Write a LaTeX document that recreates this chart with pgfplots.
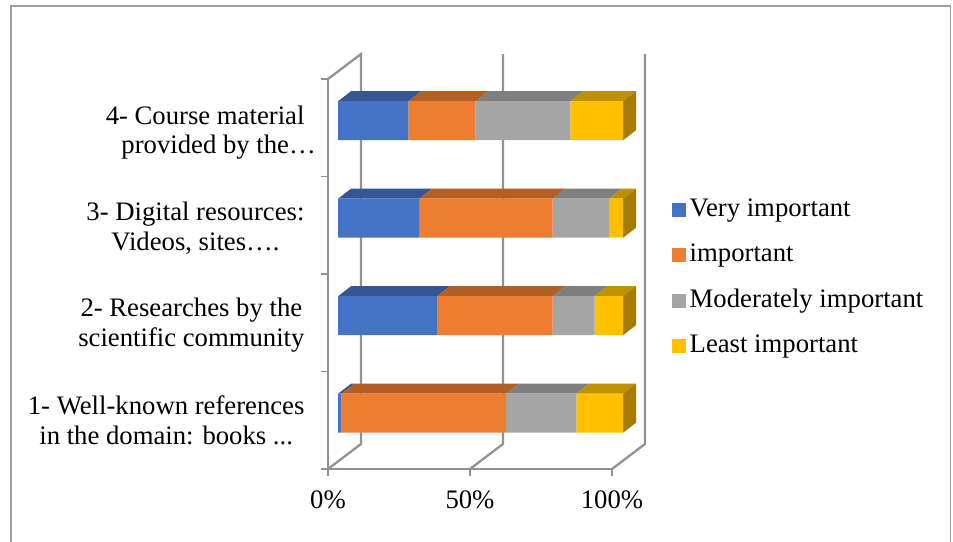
\documentclass[border=0pt]{standalone}
\usepackage{fontspec}
\setmainfont{Liberation Serif}
\usepackage{pgfplots}
\usepackage{pgfplotstable}
\pgfplotsset{compat=1.18}

\definecolor{vi}{HTML}{4472C4}
\definecolor{im}{HTML}{ED7D31}
\definecolor{mo}{HTML}{A5A5A5}
\definecolor{le}{HTML}{FFC000}
\definecolor{vitop}{HTML}{345794}
\definecolor{imtop}{HTML}{B45F23}
\definecolor{motop}{HTML}{7F7F7F}
\definecolor{letop}{HTML}{BF9000}
\definecolor{leside}{HTML}{A67C00}
\definecolor{wall}{HTML}{929292}
\definecolor{frame}{HTML}{A0A0A0}

% percent shares, one row per category
\pgfplotstableread{
pos vi im mo le
0.5 1.2 57.8 24.6 16.4
1.5 34.7 40.6 14.7 10.0
2.5 28.5 46.8 19.8 4.9
3.5 24.7 23.6 33.2 18.5
}\shares

\newcommand{\lab}{\fontsize{26.7}{29.5}\selectfont}

\pgfplotsset{
  sizeframe/.style={scale only axis, height=390pt, ymin=0, ymax=4, xmin=0, xmax=100, clip=false},
}

\begin{document}
\begin{tikzpicture}
\path[use as bounding box] (0pt,0pt) rectangle (953pt,541pt);
\draw[frame, line width=1.4pt] (11pt,-2pt) -- (11pt,535pt) -- (950.5pt,535pt) -- (950.5pt,-2pt);

% walls, floor and axes
\begin{axis}[
  sizeframe, width=284pt,
  at={(328pt,72pt)}, anchor=south west,
  axis x line*=bottom, axis y line*=left,
  axis line style={wall, line width=2.3pt, -},
  tick align=outside,
  major tick length=7pt, minor tick length=7pt,
  xtick={0,50,100}, xticklabels={0\%,50\%,100\%},
  xtick style={wall, line width=1.4pt},
  ytick={0.5,1.474,2.47,3.45},
  yticklabels={
    {1- Well-known references\\in the domain: books .{}..},
    {2- Researches by the\\scientific community},
    {3- Digital resources:\\Videos, sites….},
    {4- Course material\\provided by the…\hspace*{-27pt}}},
  major y tick style={draw=none},
  minor ytick={0,1,2,3,4},
  minor y tick style={draw=wall, line width=1.4pt},
  ticklabel style={font=\lab},
  yticklabel style={align=center, xshift=-13pt},
  xticklabel style={yshift=-11pt},
]
\addplot[wall, line width=2.3pt] coordinates {(0,4) (11.6,4.256) (11.6,0.256) (0,0)};
\addplot[wall, line width=2.3pt] coordinates {(61.6,4.256) (61.6,0.256) (50,0)};
\addplot[wall, line width=2.3pt] coordinates {(111.6,4.256) (111.6,0.256) (100,0)};
\end{axis}

% top and end faces of the bars
\begin{axis}[sizeframe, width=285pt, at={(338pt,79pt)}, anchor=south west, hide axis]
\addplot[fill=vitop,draw=none] coordinates {(0,0.7) (1.2,0.7) (5.76,0.8026) (4.56,0.8026)};
\addplot[fill=imtop,draw=none] coordinates {(1.2,0.7) (59.0,0.7) (63.56,0.8026) (5.76,0.8026)};
\addplot[fill=motop,draw=none] coordinates {(59.0,0.7) (83.6,0.7) (88.16,0.8026) (63.56,0.8026)};
\addplot[fill=letop,draw=none] coordinates {(83.6,0.7) (100,0.7) (104.56,0.8026) (88.16,0.8026)};
\addplot[fill=leside,draw=none] coordinates {(100,0.3) (104.56,0.4026) (104.56,0.8026) (100,0.7)};

\addplot[fill=vitop,draw=none] coordinates {(0,1.7) (34.7,1.7) (39.26,1.8026) (4.56,1.8026)};
\addplot[fill=imtop,draw=none] coordinates {(34.7,1.7) (75.3,1.7) (79.86,1.8026) (39.26,1.8026)};
\addplot[fill=motop,draw=none] coordinates {(75.3,1.7) (90.0,1.7) (94.56,1.8026) (79.86,1.8026)};
\addplot[fill=letop,draw=none] coordinates {(90.0,1.7) (100,1.7) (104.56,1.8026) (94.56,1.8026)};
\addplot[fill=leside,draw=none] coordinates {(100,1.3) (104.56,1.4026) (104.56,1.8026) (100,1.7)};

\addplot[fill=vitop,draw=none] coordinates {(0,2.7) (28.5,2.7) (33.06,2.8026) (4.56,2.8026)};
\addplot[fill=imtop,draw=none] coordinates {(28.5,2.7) (75.3,2.7) (79.86,2.8026) (33.06,2.8026)};
\addplot[fill=motop,draw=none] coordinates {(75.3,2.7) (95.1,2.7) (99.66,2.8026) (79.86,2.8026)};
\addplot[fill=letop,draw=none] coordinates {(95.1,2.7) (100,2.7) (104.56,2.8026) (99.66,2.8026)};
\addplot[fill=leside,draw=none] coordinates {(100,2.3) (104.56,2.4026) (104.56,2.8026) (100,2.7)};

\addplot[fill=vitop,draw=none] coordinates {(0,3.7) (24.7,3.7) (29.26,3.8026) (4.56,3.8026)};
\addplot[fill=imtop,draw=none] coordinates {(24.7,3.7) (48.3,3.7) (52.86,3.8026) (29.26,3.8026)};
\addplot[fill=motop,draw=none] coordinates {(48.3,3.7) (81.5,3.7) (86.06,3.8026) (52.86,3.8026)};
\addplot[fill=letop,draw=none] coordinates {(81.5,3.7) (100,3.7) (104.56,3.8026) (86.06,3.8026)};
\addplot[fill=leside,draw=none] coordinates {(100,3.3) (104.56,3.4026) (104.56,3.8026) (100,3.7)};
\end{axis}

% the stacked bars and the legend
\begin{axis}[
  sizeframe, width=285pt, at={(338pt,79pt)}, anchor=south west, hide axis,
  xbar stacked, bar width=39pt,
  legend image code/.code={\path[#1,draw=none] (0pt,-7pt) rectangle (14pt,7pt);},
  legend cell align=left,
  legend style={
    at={(1.172,0.68)}, anchor=north west, draw=none, fill=none,
    font=\lab, inner sep=0pt, row sep=20.5pt,
    nodes={text height=19pt, text depth=6pt, inner xsep=3.5pt, inner ysep=0pt},
  },
]
\addplot[fill=vi,draw=none] table[x=vi,y=pos] {\shares};
\addplot[fill=im,draw=none] table[x=im,y=pos] {\shares};
\addplot[fill=mo,draw=none] table[x=mo,y=pos] {\shares};
\addplot[fill=le,draw=none] table[x=le,y=pos] {\shares};
\legend{Very important,important,Moderately important,Least important}
\end{axis}
\end{tikzpicture}
\end{document}
